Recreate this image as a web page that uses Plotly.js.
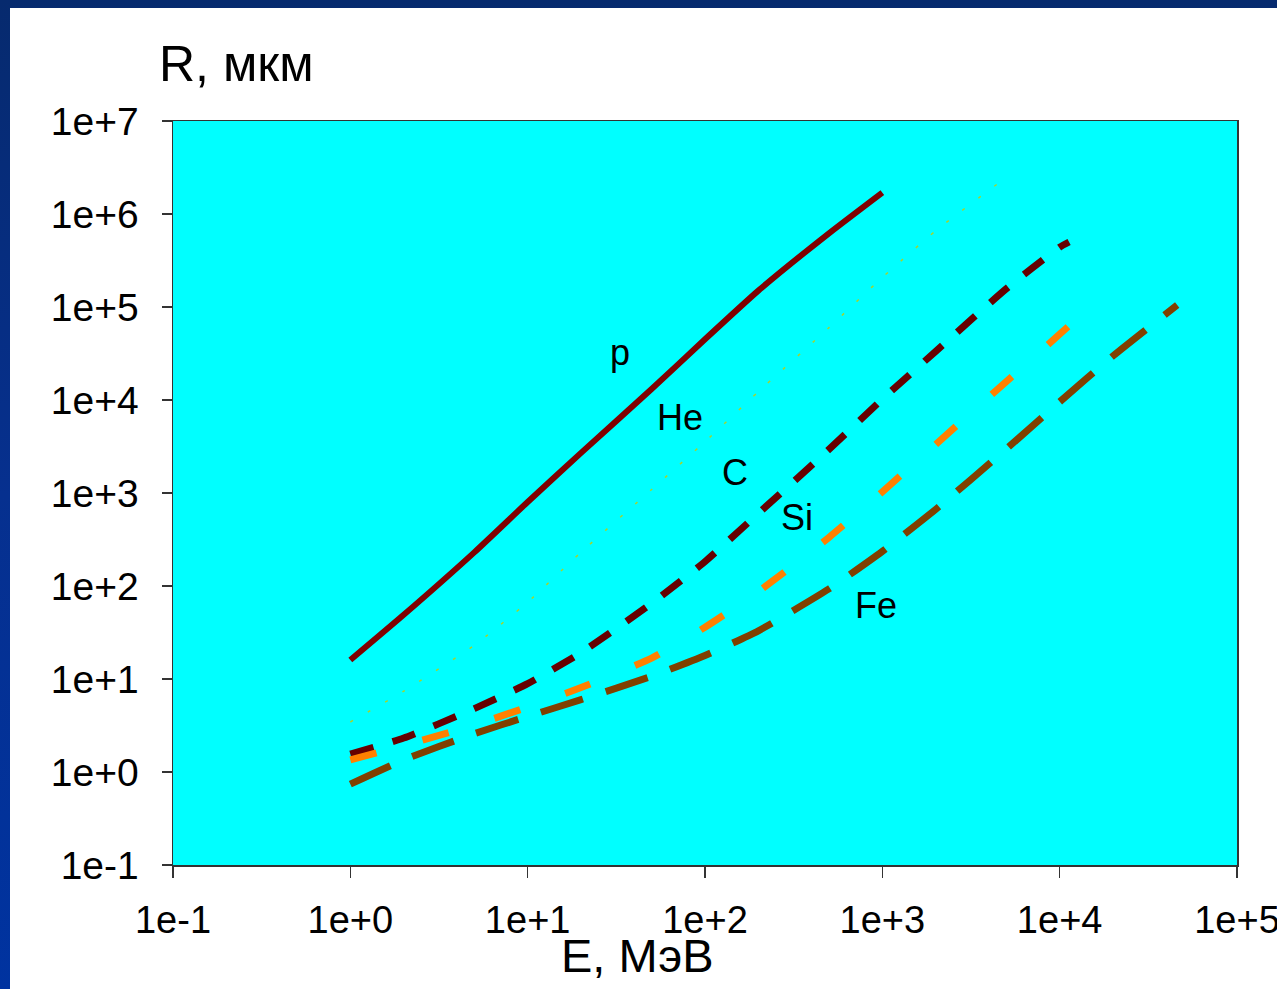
<!DOCTYPE html>
<html>
<head>
<meta charset="utf-8">
<script src="https://cdn.plot.ly/plotly-3.0.1.min.js"></script>
<style>
  html, body { margin: 0; padding: 0; width: 1277px; height: 989px; overflow: hidden; }
  body { background: linear-gradient(to bottom, #062a6e 0%, #06308f 50%, #0033a0 100%); position: relative; }
  #sheet { position: absolute; left: 10px; top: 8px; width: 1267px; height: 981px; background: #ffffff; }
  #chart { position: absolute; left: 0; top: 0; width: 1277px; height: 989px; }
</style>
</head>
<body>
<div id="sheet"></div>
<div id="chart"></div>
<script>
// Energy (MeV) and range (µm)
const E_p  = [1, 2, 5, 10, 20, 50, 100, 200, 500, 1000];
const R_p  = [16, 49, 230, 800, 2700, 13100, 45000, 150000, 620000, 1700000];

const E_He = [1, 2, 5, 10, 20, 50, 100, 200, 500, 1000, 2000, 4940];
const R_He = [3.45, 7.4, 23, 67, 231, 1090, 3560, 12300, 60000, 208000, 660000, 2440000];

const E_C  = [1, 2, 5, 10, 20, 50, 100, 200, 500, 1000, 2000, 5000, 10000, 11300];
const R_C  = [1.56, 2.32, 4.8, 8.9, 19.2, 65, 183, 604, 2940, 10200, 33400, 157000, 440000, 500000];

const E_Si = [1, 2, 5, 10, 20, 50, 100, 200, 500, 1000, 2000, 5000, 10000, 14000];
const R_Si = [1.35, 1.93, 3.2, 5.0, 8.1, 16.8, 36, 87, 333, 1030, 3330, 15800, 51000, 91000];

const E_Fe = [1, 2, 5, 10, 20, 50, 100, 200, 500, 1000, 2000, 5000, 10000, 20000, 46000];
const R_Fe = [0.74, 1.35, 2.58, 3.96, 6.0, 10.7, 17.9, 33, 93, 236, 667, 2970, 9550, 29800, 105000];

const seriesNames = ['p', 'He', 'C', 'Si', 'Fe'];

const xTickVals = [0.1, 1, 10, 100, 1000, 10000, 100000];
const xTickText = ['1e-1', '1e+0', '1e+1', '1e+2', '1e+3', '1e+4', '1e+5'];
const yTickVals = [0.1, 1, 10, 100, 1000, 10000, 100000, 1000000, 10000000];
const yTickText = ['1e-1', '1e+0', '1e+1', '1e+2', '1e+3', '1e+4', '1e+5', '1e+6', '1e+7'];

const FONT = 'Liberation Sans, Arial, sans-serif';

const traces = [
  {x: E_p,  y: R_p,  mode: 'lines', name: seriesNames[0], line: {color: '#800000', width: 6, dash: 'solid', shape: 'spline', smoothing: 0.5}},
  {x: E_He, y: R_He, mode: 'lines', name: seriesNames[1], line: {color: '#a8d22a', width: 1.5, dash: '3px,17px', shape: 'spline', smoothing: 0.5}},
  {x: E_C,  y: R_C,  mode: 'lines', name: seriesNames[2], line: {color: '#660000', width: 7, dash: '24px,20px', shape: 'spline', smoothing: 0.5}},
  {x: E_Si, y: R_Si, mode: 'lines', name: seriesNames[3], line: {color: '#ff8000', width: 7, dash: '27px,48px', shape: 'spline', smoothing: 0.5}},
  {x: E_Fe, y: R_Fe, mode: 'lines', name: seriesNames[4], line: {color: '#804000', width: 7, dash: '44px,24px', shape: 'spline', smoothing: 0.5}}
];

function lbl(text, px, py, size) {
  return {text: text, xref: 'paper', yref: 'paper',
    x: (px - 173) / 1064, y: (865 - py) / 744,
    xanchor: 'center', yanchor: 'middle', showarrow: false,
    font: {family: FONT, size: size, color: '#000000'}};
}

const layout = {
  width: 1277, height: 989,
  margin: {l: 173, r: 40, t: 121, b: 124, pad: 0},
  paper_bgcolor: 'rgba(0,0,0,0)',
  plot_bgcolor: '#00ffff',
  showlegend: false,
  font: {family: FONT, color: '#000000'},
  xaxis: {
    type: 'log', range: [-1, 5],
    tickmode: 'array', tickvals: xTickVals, ticktext: xTickText,
    ticks: 'outside', ticklen: 11, tickwidth: 1.5, tickcolor: '#333333',
    showline: true, linecolor: '#333333', linewidth: 1.5, mirror: true,
    showgrid: false, zeroline: false,
    tickfont: {family: FONT, size: 38, color: '#000000'},
    ticklabelstandoff: 10,
    ticklabeloverflow: 'allow'
  },
  yaxis: {
    type: 'log', range: [-1, 7],
    tickmode: 'array', tickvals: yTickVals, ticktext: yTickText,
    ticks: 'outside', ticklen: 10, tickwidth: 1.5, tickcolor: '#333333',
    showline: true, linecolor: '#333333', linewidth: 1.5, mirror: true,
    showgrid: false, zeroline: false,
    tickfont: {family: FONT, size: 39, color: '#000000'},
    ticklabelstandoff: 15,
    ticklabeloverflow: 'allow'
  },
  annotations: [
    lbl('R, мкм', 236, 64, 50),
    lbl('E, МэВ', 637, 955, 47),
    lbl(seriesNames[0], 620, 352, 36),
    lbl(seriesNames[1], 680, 417, 36),
    lbl(seriesNames[2], 735, 472, 36),
    lbl(seriesNames[3], 797, 517, 36),
    lbl(seriesNames[4], 876, 605, 36)
  ]
};

Plotly.newPlot('chart', traces, layout, {staticPlot: true, displayModeBar: false});
</script>
</body>
</html>
